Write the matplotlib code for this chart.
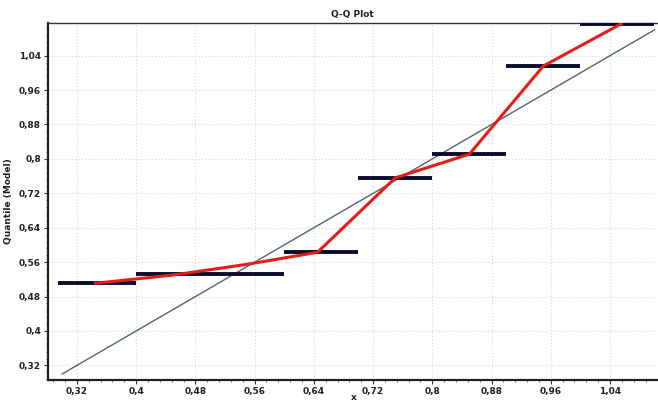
import matplotlib
matplotlib.use("Agg")
import matplotlib.pyplot as plt
from matplotlib.ticker import FixedLocator, AutoMinorLocator, FuncFormatter

# Step segments (model quantiles)
step_x0 = [0.295, 0.40, 0.60, 0.70, 0.80, 0.90, 1.00]
step_x1 = [0.40, 0.60, 0.70, 0.80, 0.90, 1.00, 1.10]
step_y = [0.511, 0.533, 0.583, 0.756, 0.811, 1.016, 1.114]

# Red fitted line
red_x = [0.345, 0.45, 0.55, 0.645, 0.75, 0.85, 0.95, 1.055]
red_y = [0.511, 0.530, 0.555, 0.583, 0.756, 0.811, 1.016, 1.114]

# Reference diagonal
diag = [0.30, 1.10]

xticks = [0.32, 0.40, 0.48, 0.56, 0.64, 0.72, 0.80, 0.88, 0.96, 1.04]
yticks = [0.32, 0.40, 0.48, 0.56, 0.64, 0.72, 0.80, 0.88, 0.96, 1.04]

fig = plt.figure(figsize=(6.58, 4.03), dpi=100)
ax = fig.add_axes([0.073, 0.057, 0.925, 0.886])

ax.plot(diag, diag, color="#4f6575", lw=1.0, zorder=2)
ax.hlines(step_y, step_x0, step_x1, color="#0b0b2e", lw=2.8, zorder=3)
ax.plot(red_x, red_y, color="#e51d17", lw=2.2, zorder=4, solid_joinstyle="miter")

ax.set_xlim(0.281, 1.103)
ax.set_ylim(0.286, 1.116)

def fmt(v, pos):
    s = ("%.2f" % v).rstrip("0").rstrip(".")
    return s.replace(".", ",")

ax.xaxis.set_major_locator(FixedLocator(xticks))
ax.yaxis.set_major_locator(FixedLocator(yticks))
ax.xaxis.set_major_formatter(FuncFormatter(fmt))
ax.yaxis.set_major_formatter(FuncFormatter(fmt))
ax.xaxis.set_minor_locator(AutoMinorLocator(5))
ax.yaxis.set_minor_locator(AutoMinorLocator(5))

ax.tick_params(axis="both", which="major", length=3, width=0.8, labelsize=6.5, pad=2, color="#333333")
ax.tick_params(axis="both", which="minor", length=1.5, width=0.6, color="#555555")
for lab in ax.get_xticklabels() + ax.get_yticklabels():
    lab.set_fontweight("bold")
    lab.set_color("#222222")

ax.grid(True, which="major", linestyle=(0, (1, 2)), color="#d6d6d6", lw=0.8)

for side in ["left", "bottom"]:
    ax.spines[side].set_linewidth(1.6)
    ax.spines[side].set_color("#222222")
ax.spines["top"].set_linewidth(1.0)
ax.spines["top"].set_color("#333333")
ax.spines["right"].set_visible(False)

ax.set_title("Q-Q Plot", fontsize=6.5, fontweight="bold", pad=4, color="#222222")
ax.set_ylabel("Quantile (Model)", fontsize=6.5, fontweight="bold", labelpad=4, color="#222222")
ax.set_xlabel("x", fontsize=6.5, fontweight="bold", color="#222222", va="center")
ax.xaxis.set_label_coords(0.503, -0.048)

fig.savefig("out.png", dpi=100)
